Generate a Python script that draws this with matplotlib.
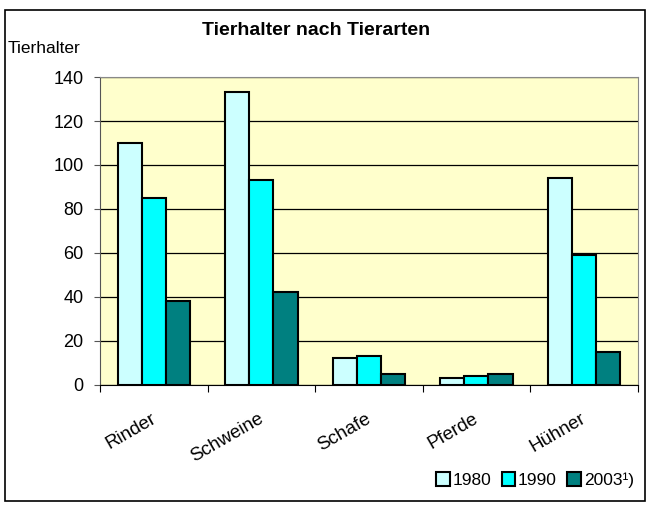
import matplotlib.pyplot as plt
import numpy as np
from matplotlib.patches import Rectangle, Patch

categories = ["Rinder", "Schweine", "Schafe", "Pferde", "Hühner"]
years = ["1980", "1990", "2003¹)"]
v1980 = [110, 133, 12, 3, 94]
v1990 = [85, 93, 13, 4, 59]
v2003 = [38, 42, 5, 5, 15]
colors = ["#CCFFFF", "#00FFFF", "#008080"]

plt.rcParams['font.family'] = ['Liberation Sans', 'DejaVu Sans']

fig = plt.figure(figsize=(6.46, 5.07), dpi=100)
ax = fig.add_axes([0.155, 0.241, 0.832, 0.607])
ax.set_facecolor("#FFFFCC")

x = np.arange(len(categories))
w = 0.225
for i, (vals, c, lab) in enumerate(zip([v1980, v1990, v2003], colors, years)):
    ax.bar(x + (i - 1) * w, vals, w, color=c, edgecolor="black", lw=1.5, label=lab, zorder=3)

ax.set_xlim(-0.5, len(categories) - 0.5)
ax.set_ylim(0, 140)
ax.set_yticks(range(0, 141, 20))
ax.yaxis.grid(True, color="black", lw=0.9, zorder=1)
ax.set_xticks(np.arange(-0.5, len(categories), 1))
ax.set_xticklabels([])
ax.tick_params(axis="x", length=5, color="black")
ax.tick_params(axis="y", length=4, labelsize=13, pad=8, color="#555555")
for s in ["top", "right"]:
    ax.spines[s].set_color("#888888")
ax.spines["left"].set_color("#555555")
ax.spines["bottom"].set_color("black")
for i, c in enumerate(categories):
    ax.text(i - 0.03, -11.5, c, rotation=30, ha="right", va="top", fontsize=13.5,
            rotation_mode="anchor", clip_on=False)

fig.text(0.012, 0.905, "Tierhalter", fontsize=12.5, ha="left", va="center")
fig.text(0.49, 0.94, "Tierhalter nach Tierarten", fontsize=14, fontweight="bold",
         ha="center", va="center")

handles = [Patch(facecolor=c, edgecolor="black", lw=1.5) for c in colors]
fig.legend(handles, years, loc="center right", bbox_to_anchor=(1.0, 0.053), ncol=3,
           frameon=False, fontsize=12.5, handlelength=0.8, handleheight=0.8,
           handletextpad=0.15, columnspacing=0.6, borderpad=0.2)

fig.patches.append(Rectangle((0.008, 0.012), 0.99, 0.968, transform=fig.transFigure,
                             fill=False, edgecolor="black", lw=1.2))

fig.savefig("out.png", dpi=100)
